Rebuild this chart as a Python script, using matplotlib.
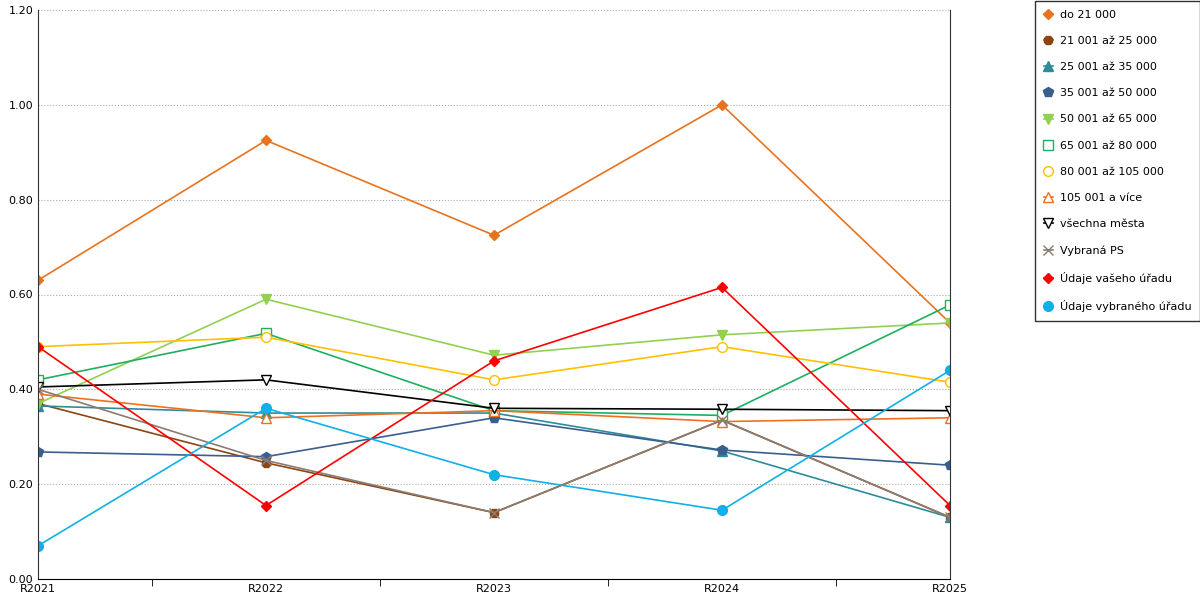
import matplotlib.pyplot as plt
import numpy as np

years = ["R2021", "R2022", "R2023", "R2024", "R2025"]

do_21000 = [0.63, 0.925, 0.725, 1.0, 0.54]
s21_25 = [0.37, 0.245, 0.14, 0.335, 0.13]
s25_35 = [0.365, 0.35, 0.35, 0.27, 0.13]
s35_50 = [0.268, 0.258, 0.34, 0.272, 0.24]
s50_65 = [0.37, 0.59, 0.472, 0.515, 0.54]
s65_80 = [0.42, 0.518, 0.355, 0.345, 0.578]
s80_105 = [0.49, 0.51, 0.42, 0.49, 0.415]
s105 = [0.39, 0.34, 0.355, 0.332, 0.34]
vsechna = [0.405, 0.42, 0.36, 0.358, 0.355]
vybrana_ps = [0.40, 0.25, 0.14, 0.335, 0.13]
vas_urad = [0.49, 0.155, 0.46, 0.615, 0.155]
vybrany_urad = [0.07, 0.36, 0.22, 0.145, 0.44]

series = [
    ("do 21 000", do_21000, "#E8731E", "D", True),
    ("21 001 až 25 000", s21_25, "#8B4513", "8", True),
    ("25 001 až 35 000", s25_35, "#2E8B9A", "^", True),
    ("35 001 až 50 000", s35_50, "#3A5F8F", "p", True),
    ("50 001 až 65 000", s50_65, "#92D050", "v", True),
    ("65 001 až 80 000", s65_80, "#1DB060", "s", False),
    ("80 001 až 105 000", s80_105, "#FFC000", "o", False),
    ("105 001 a více", s105, "#F07020", "^", False),
    ("všechna města", vsechna, "#000000", "v", False),
    ("Vybraná PS", vybrana_ps, "#8C7B70", "x", True),
    ("Údaje vašeho úřadu", vas_urad, "#FF0000", "D", True),
    ("Údaje vybraného úřadu", vybrany_urad, "#10B0E8", "o", True),
]

fig = plt.figure(figsize=(12, 6), dpi=100)
ax = fig.add_axes([38 / 1200, 21 / 600, 912 / 1200, 569 / 600])
x = np.arange(len(years))
for label, vals, col, mk, filled in series:
    ax.plot(x, vals, color=col, lw=1.2, marker=mk, markersize=7 if mk != "D" else 5.5,
            markerfacecolor=col if filled else "white", markeredgecolor=col,
            label=label)

ax.set_xlim(0, 4)
ax.set_ylim(0, 1.2)
ax.set_yticks(np.arange(0, 1.21, 0.2))
ax.set_yticklabels([f"{v:.2f}" for v in np.arange(0, 1.21, 0.2)], fontsize=8)
ax.set_xticks(x)
ax.set_xticklabels(years, fontsize=8)
ax.set_xticks(np.arange(0.5, 4, 1), minor=True)
ax.tick_params(axis="x", which="major", length=0)
ax.tick_params(axis="x", which="minor", length=5)
ax.tick_params(axis="y", length=0)
ax.grid(axis="y", ls=":", color="#aaaaaa", lw=0.8)
ax.spines["top"].set_visible(False)
ax.spines["left"].set_color("#333333")
ax.spines["right"].set_color("#333333")

fig.legend(*ax.get_legend_handles_labels(), loc="upper left",
           bbox_to_anchor=(1034 / 1200, 1.0), bbox_transform=fig.transFigure,
           fontsize=8, frameon=True, fancybox=False, edgecolor="black",
           labelspacing=1.45, handlelength=0.8, handletextpad=0.6, borderpad=0.8,
           borderaxespad=0.1)

plt.savefig("out.png", dpi=100)
